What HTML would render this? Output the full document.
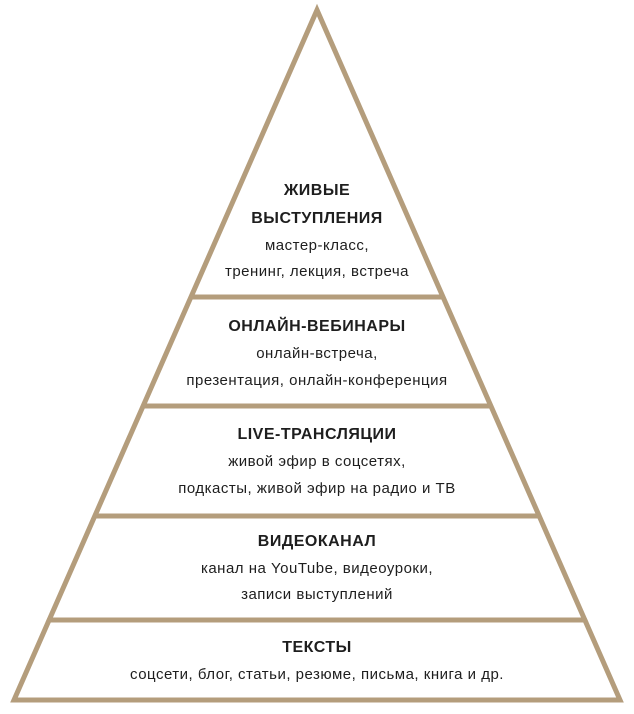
<!DOCTYPE html>
<html><head><meta charset="utf-8"><style>
html,body{margin:0;padding:0;background:#fff;}
body{width:634px;height:714px;position:relative;overflow:hidden;font-family:"Liberation Sans",sans-serif;color:#1e1e1e;}
.t{position:absolute;left:0;width:634px;text-align:center;white-space:nowrap;line-height:20px;}
.h{font-weight:bold;font-size:16px;letter-spacing:0.5px;}
.b{font-size:15px;letter-spacing:0.5px;}
</style></head><body>
<svg width="634" height="714" style="position:absolute;left:0;top:0">
<g stroke="#b49d7c" stroke-width="5" fill="none">
<line x1="0" y1="297" x2="634" y2="297"/>
<line x1="0" y1="406" x2="634" y2="406"/>
<line x1="0" y1="516" x2="634" y2="516"/>
<line x1="0" y1="620" x2="634" y2="620"/>
</g>
<polygon points="0,0 317,0 317,6 10,703 0,703" fill="#fff"/>
<polygon points="317,0 634,0 634,703 624,703 317,6" fill="#fff"/>
<polygon points="317,10 14,700 620,700" stroke="#b49d7c" stroke-width="5" fill="none"/>
</svg>
<div class="t h" style="top:181px">ЖИВЫЕ</div>
<div class="t h" style="top:209px">ВЫСТУПЛЕНИЯ</div>
<div class="t b" style="top:236px">мастер-класс,</div>
<div class="t b" style="top:262px">тренинг, лекция, встреча</div>
<div class="t h" style="top:317px">ОНЛАЙН-ВЕБИНАРЫ</div>
<div class="t b" style="top:344px">онлайн-встреча,</div>
<div class="t b" style="top:371px">презентация, онлайн-конференция</div>
<div class="t h" style="top:425px">LIVE-ТРАНСЛЯЦИИ</div>
<div class="t b" style="top:452px">живой эфир в соцсетях,</div>
<div class="t b" style="top:479px">подкасты, живой эфир на радио и ТВ</div>
<div class="t h" style="top:532px">ВИДЕОКАНАЛ</div>
<div class="t b" style="top:559px">канал на YouTube, видеоуроки,</div>
<div class="t b" style="top:585px">записи выступлений</div>
<div class="t h" style="top:638px">ТЕКСТЫ</div>
<div class="t b" style="top:665px">соцсети, блог, статьи, резюме, письма, книга и др.</div>
</body></html>
